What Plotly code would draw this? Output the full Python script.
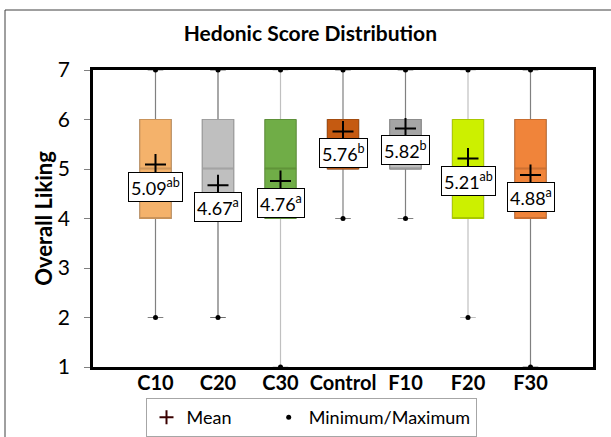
import plotly.graph_objects as go

# ---- data ----
categories = ["C10", "C20", "C30", "Control", "F10", "F20", "F30"]
q1 = [4, 4, 4, 5, 5, 4, 4]
median = [5, 5, 5, 5.5, 5.5, 5, 5]
q3 = [6, 6, 6, 6, 6, 6, 6]
minimum = [2, 2, 1, 4, 4, 2, 1]
maximum = [7, 7, 7, 7, 7, 7, 7]
mean = [5.09, 4.67, 4.76, 5.76, 5.82, 5.21, 4.88]
letters = ["ab", "a", "a", "b", "b", "ab", "a"]

# ---- style ----
upper_colors = ["#F4B26B", "#BFBFBF", "#70AD47", "#C55A11", "#A5A5A5", "#CCF000", "#F0843A"]
lower_colors = ["#F4B26B", "#BFBFBF", "#70AD47", "#ED7D31", "#BFBFBF", "#CCF000", "#F0843A"]
outline_colors = ["#C9935A", "#A0A0A0", "#5E9139", "#A34B0E", "#8C8C8C", "#A9C800", "#C96E30"]
whisker_colors = ["#808080", "#6E6E6E", "#C0C0C0", "#808080", "#808080", "#C0C0C0", "#808080"]
FONT = "Lato"

fig = go.Figure()

for i, c in enumerate(categories):
    fig.add_trace(go.Box(
        x=[c], q1=[q1[i]], median=[median[i]], q3=[q3[i]],
        lowerfence=[minimum[i]], upperfence=[maximum[i]],
        width=0.5, whiskerwidth=0.5, fillcolor=upper_colors[i],
        line=dict(color=whisker_colors[i], width=1.2),
        boxpoints=False, showlegend=False, hoverinfo="skip"))
    fig.add_trace(go.Box(
        x=[c], q1=[median[i]], median=[median[i]], q3=[q3[i]],
        lowerfence=[median[i]], upperfence=[q3[i]],
        width=0.5, whiskerwidth=0, fillcolor=upper_colors[i],
        line=dict(color=outline_colors[i], width=1),
        boxpoints=False, showlegend=False, hoverinfo="skip"))
    fig.add_trace(go.Box(
        x=[c], q1=[q1[i]], median=[q1[i]], q3=[median[i]],
        lowerfence=[q1[i]], upperfence=[median[i]],
        width=0.5, whiskerwidth=0, fillcolor=lower_colors[i],
        line=dict(color=outline_colors[i], width=1),
        boxpoints=False, showlegend=False, hoverinfo="skip"))

# min / max points
fig.add_trace(go.Scatter(
    x=categories + categories, y=minimum + maximum, mode="markers",
    marker=dict(symbol="circle", size=5, color="black"),
    name="Minimum/Maximum", legendgroup="mm", hoverinfo="skip"))

# mean markers (legend entry drawn by a smaller-marker twin)
fig.add_trace(go.Scatter(
    x=categories, y=mean, mode="markers",
    marker=dict(symbol="cross-thin", size=15, color="black",
                line=dict(color="black", width=2)),
    name="Mean", legendgroup="mean", showlegend=False, hoverinfo="skip"))
fig.add_trace(go.Scatter(
    x=[None], y=[None], mode="markers",
    marker=dict(symbol="cross-thin", size=10, color="#5A0000",
                line=dict(color="#3A0000", width=2)),
    name="Mean\u00a0\u00a0\u00a0\u00a0\u00a0\u00a0\u00a0", legendgroup="mean", hoverinfo="skip"))

for c, m, l in zip(categories, mean, letters):
    fig.add_annotation(
        x=c, y=m, yshift=-22, text=f"{m:.2f}<sup>{l}</sup>", showarrow=False,
        font=dict(family=FONT, size=18, color="black"),
        bgcolor="white", bordercolor="black", borderwidth=1, borderpad=2)

L, R, T, B = 93, 18, 70, 70
W, H = 611, 437
pw, ph = W - L - R, H - T - B

def px(x):
    return (x - L) / pw

def py(y):
    return (H - B - y) / ph

fig.add_shape(type="rect", xref="paper", yref="paper",
              x0=px(5), x1=px(640), y0=py(470), y1=py(10),
              line=dict(color="#404040", width=1), layer="below")

fig.update_layout(
    width=W, height=H,
    margin=dict(l=L, r=R, t=T, b=B, autoexpand=False),
    paper_bgcolor="white", plot_bgcolor="white",
    boxmode="overlay",
    font=dict(family=FONT, color="black"),
    title=dict(text="<b>Hedonic Score Distribution</b>", x=0.508, xanchor="center",
               y=1 - 34 / H, yanchor="middle", font=dict(family=FONT, size=21, color="black")),
    xaxis=dict(type="category", categoryorder="array", categoryarray=categories,
               range=[-1, 7], showline=True, linecolor="black", linewidth=2.5, mirror=True,
               ticks="", showgrid=False, zeroline=False, ticklabelstandoff=-4,
               tickfont=dict(family=FONT, size=20, color="black", weight="bold")),
    yaxis=dict(range=[1, 7], dtick=1, showline=True, linecolor="black", linewidth=2.5, mirror=True,
               ticks="outside", ticklen=6, tickcolor="#808080", tickwidth=1,
               showgrid=False, zeroline=False, ticklabelstandoff=10,
               tickfont=dict(family=FONT, size=21, color="black"),
               title=dict(text="<b>Overall Liking</b>", standoff=0,
                          font=dict(family=FONT, size=22, color="black"))),
    legend=dict(orientation="h", x=px(311), xanchor="center", y=py(398), yanchor="top",
                bgcolor="white", bordercolor="#A6A6A6", borderwidth=1,
                font=dict(family=FONT, size=18, color="black"), traceorder="reversed",
                itemwidth=30),
)

fig.write_html("out.html", config={"displayModeBar": False},
               post_script="document.body.style.margin='0';")
